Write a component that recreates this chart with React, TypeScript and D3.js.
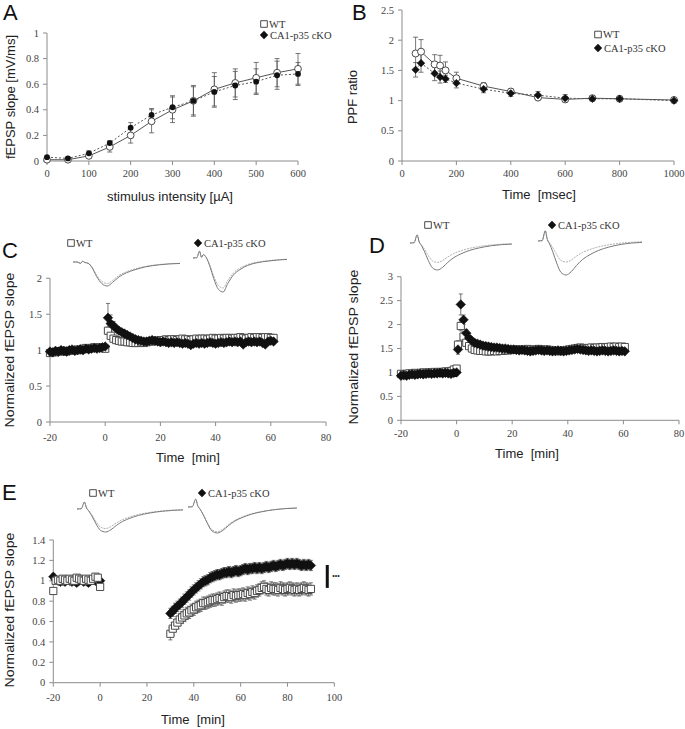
import * as d3 from "d3"

const SERIF = "'Liberation Serif','Times New Roman',serif"
const SANS = "'Liberation Sans',Arial,sans-serif"
const AXIS = "#8c8c8c"
const TICK_TXT = "#444"
const WT_STROKE = "#4a4a4a"
const KO_FILL = "#111"
const ERR = "#555"
const TRACE = "#7a7a7a"

// ---- Panel A: input/output ----
const A_X = [0, 50, 100, 150, 200, 250, 300, 350, 400, 450, 500, 550, 600]
const A_WT = [0.01, 0.01, 0.04, 0.11, 0.2, 0.31, 0.4, 0.47, 0.56, 0.61, 0.65, 0.69, 0.72]
const A_WT_ERR = [0.01, 0.01, 0.02, 0.04, 0.06, 0.09, 0.1, 0.11, 0.13, 0.11, 0.12, 0.11, 0.12]
const A_KO = [0.03, 0.02, 0.06, 0.14, 0.26, 0.36, 0.42, 0.47, 0.54, 0.59, 0.62, 0.67, 0.68]
const A_KO_ERR = [0.01, 0.01, 0.02, 0.02, 0.04, 0.05, 0.09, 0.12, 0.12, 0.11, 0.1, 0.11, 0.09]
const A_X_TICKS = [0, 100, 200, 300, 400, 500, 600]
const A_Y_TICKS = [0, 0.2, 0.4, 0.6, 0.8, 1]

// ---- Panel B: paired-pulse ----
const B_X = [50, 70, 120, 140, 160, 200, 300, 400, 500, 600, 700, 800, 1000]
const B_WT = [1.78, 1.81, 1.6, 1.58, 1.5, 1.37, 1.24, 1.15, 1.05, 1.02, 1.04, 1.03, 1.01]
const B_WT_ERR = [0.27, 0.2, 0.16, 0.17, 0.14, 0.1, 0.06, 0.05, 0.04, 0.05, 0.04, 0.04, 0.04]
const B_KO = [1.51, 1.62, 1.45, 1.39, 1.36, 1.29, 1.19, 1.12, 1.09, 1.04, 1.03, 1.03, 1.0]
const B_KO_ERR = [0.12, 0.15, 0.12, 0.1, 0.06, 0.08, 0.06, 0.05, 0.06, 0.06, 0.04, 0.03, 0.04]
const B_X_TICKS = [0, 200, 400, 600, 800, 1000]
const B_Y_TICKS = [0, 0.5, 1, 1.5, 2, 2.5]

// ---- Panel C: LTP ----
const C_BASE_T0 = -20
const C_POST_T0 = 1
const C_WT_BASE = [0.96, 0.97, 0.97, 0.98, 0.98, 0.99, 0.98, 0.99, 1.0, 1.0, 1.01, 1.0, 1.02, 1.03, 1.02, 1.03, 1.04, 1.03, 1.04, 1.03, 1.02]
const C_KO_BASE = [0.98, 0.97, 0.99, 0.98, 1.0, 0.99, 0.98, 1.0, 1.01, 0.99, 1.0, 1.01, 1.0, 1.02, 1.01, 1.02, 1.03, 1.02, 1.03, 1.04, 1.05]
const C_WT_POST = [
  1.27, 1.2, 1.16, 1.14, 1.13, 1.12, 1.12, 1.11, 1.11, 1.1,
  1.1, 1.1, 1.11, 1.1, 1.11, 1.12, 1.12, 1.13, 1.13, 1.14,
  1.14, 1.15, 1.14, 1.15, 1.15, 1.14, 1.15, 1.16, 1.15, 1.15,
  1.14, 1.15, 1.16, 1.15, 1.16, 1.16, 1.15, 1.16, 1.17, 1.16,
  1.16, 1.17, 1.16, 1.17, 1.17, 1.16, 1.17, 1.17, 1.18, 1.17,
  1.16, 1.17, 1.18, 1.17, 1.18, 1.18, 1.17, 1.18, 1.18, 1.17,
  1.17,
]
const C_KO_POST = [
  1.45, 1.37, 1.34, 1.3, 1.27, 1.25, 1.23, 1.21, 1.19, 1.17,
  1.15, 1.14, 1.13, 1.12, 1.12, 1.13, 1.14, 1.13, 1.12, 1.11,
  1.12, 1.11, 1.1, 1.11, 1.1, 1.11, 1.1, 1.09, 1.1, 1.09,
  1.07, 1.09, 1.1, 1.09, 1.1, 1.09, 1.1, 1.11, 1.1, 1.09,
  1.1, 1.11, 1.1, 1.11, 1.12, 1.11, 1.12, 1.11, 1.12, 1.08,
  1.11, 1.12, 1.11, 1.12, 1.11, 1.12, 1.1, 1.08, 1.12, 1.13,
  1.12,
]
const C_WT_ERR_HEAD = [0.05, 0.05]
const C_KO_ERR_HEAD = [0.2, 0.12, 0.06]
const C_ERR = 0.035
const C_X_TICKS = [-20, 0, 20, 40, 60, 80]
const C_Y_TICKS = [0, 0.5, 1, 1.5, 2]

// ---- Panel D: LTP (strong) ----
const D_BASE_T0 = -20
const D_POST_T0 = 0.5
const D_WT_BASE = [0.97, 0.96, 0.97, 0.98, 0.98, 0.99, 0.98, 0.99, 1.0, 0.99, 1.0, 1.0, 1.01, 1.0, 1.01, 1.01, 1.02, 1.02, 1.03, 1.06, 1.08]
const D_KO_BASE = [0.93, 0.94, 0.93, 0.95, 0.96, 0.95, 0.96, 0.97, 0.96, 0.97, 0.98, 0.97, 0.98, 0.98, 0.99, 0.98, 0.99, 0.98, 0.97, 0.99, 1.0]
const D_WT_POST = [
  1.58, 1.97, 1.75, 1.62, 1.55, 1.5, 1.47, 1.46, 1.45, 1.45, 1.44,
  1.44, 1.44, 1.45, 1.44, 1.45, 1.45, 1.46, 1.46, 1.47, 1.47,
  1.48, 1.48, 1.47, 1.48, 1.49, 1.48, 1.47, 1.48, 1.49, 1.48,
  1.47, 1.48, 1.47, 1.46, 1.45, 1.44, 1.45, 1.46, 1.47, 1.48,
  1.49, 1.5, 1.51, 1.52, 1.51, 1.5, 1.51, 1.52, 1.51, 1.52,
  1.52, 1.53, 1.52, 1.53, 1.54, 1.53, 1.54, 1.53, 1.54, 1.53,
]
const D_KO_POST = [
  1.48, 2.42, 2.1, 1.82, 1.72, 1.66, 1.62, 1.6, 1.58, 1.56, 1.55,
  1.54, 1.53, 1.52, 1.52, 1.51, 1.5, 1.5, 1.49, 1.48, 1.48,
  1.47, 1.46, 1.47, 1.46, 1.45, 1.44, 1.45, 1.46, 1.47, 1.46,
  1.45, 1.46, 1.45, 1.44, 1.45, 1.46, 1.45, 1.44, 1.45, 1.46,
  1.47, 1.48, 1.49, 1.48, 1.47, 1.46, 1.45, 1.46, 1.45, 1.44,
  1.45, 1.46, 1.45, 1.44, 1.45, 1.46, 1.45, 1.44, 1.45, 1.44,
]
const D_WT_ERR_HEAD = [0.08, 0.1, 0.1, 0.06]
const D_KO_ERR_HEAD = [0.1, 0.22, 0.1, 0.08]
const D_ERR = 0.05
const D_X_TICKS = [-20, 0, 20, 40, 60, 80]
const D_Y_TICKS = [0, 0.5, 1, 1.5, 2, 2.5, 3]

// ---- Panel E: recovery ----
const E_BASE_T0 = -20
const E_POST_T0 = 30
const E_WT_BASE = [0.9, 1.0, 1.01, 1.0, 1.02, 1.01, 1.0, 1.02, 1.01, 1.0, 1.03, 1.02, 1.01, 1.0, 1.02, 1.01, 1.0, 1.02, 1.04, 1.03, 0.94]
const E_KO_BASE = [1.04, 1.01, 1.0, 0.99, 1.0, 0.99, 1.01, 1.0, 0.99, 1.0, 0.98, 1.0, 1.01, 0.99, 1.0, 0.98, 1.0, 1.01, 1.0, 0.99, 1.0]
const E_WT_POST = [
  0.48, 0.53, 0.56, 0.59, 0.62, 0.64, 0.66, 0.68, 0.69, 0.71,
  0.72, 0.74, 0.75, 0.76, 0.78, 0.78, 0.79, 0.8, 0.81, 0.81,
  0.82, 0.83, 0.82, 0.84, 0.85, 0.85, 0.84, 0.86, 0.85, 0.86,
  0.86, 0.87, 0.86, 0.88, 0.87, 0.89, 0.88, 0.9, 0.91, 0.93,
  0.94, 0.92, 0.91, 0.93, 0.92, 0.92, 0.91, 0.93, 0.92, 0.91,
  0.92, 0.93, 0.92, 0.91, 0.92, 0.91, 0.92, 0.93, 0.92, 0.91,
  0.92,
]
const E_KO_POST = [
  0.68, 0.7, 0.73, 0.75, 0.77, 0.79, 0.82, 0.84, 0.86, 0.89,
  0.91, 0.93, 0.95, 0.97, 0.99, 1.0, 1.01, 1.03, 1.04, 1.05,
  1.06, 1.06, 1.07, 1.08, 1.08, 1.09, 1.08, 1.09, 1.1, 1.09,
  1.1, 1.11, 1.12, 1.11, 1.12, 1.12, 1.13, 1.12, 1.13, 1.12,
  1.13, 1.14, 1.13, 1.14, 1.15, 1.14, 1.15, 1.16, 1.15, 1.16,
  1.17, 1.16, 1.17, 1.16, 1.17, 1.16, 1.15, 1.16, 1.15, 1.16,
  1.15,
]
const E_WT_ERR = 0.06
const E_KO_ERR = 0.05
const E_X_TICKS = [-20, 0, 20, 40, 60, 80, 100]
const E_Y_TICKS = [0, 0.2, 0.4, 0.6, 0.8, 1, 1.2, 1.4]
const E_SIG = { t: 97, lo: 0.93, hi: 1.155 }

// ---- sample fEPSP traces (0 = baseline, -1 = trough) ----
const TRACE_T = [0, 0.04, 0.07, 0.09, 0.11, 0.14, 0.18, 0.22, 0.27, 0.32, 0.37, 0.43, 0.5, 0.58, 0.68, 0.8, 0.9, 1]
const SHAPE_SMOOTH = [0, 0, -0.06, 0.03, -0.02, -0.05, -0.25, -0.6, -0.9, -1.0, -0.85, -0.62, -0.45, -0.32, -0.2, -0.12, -0.08, -0.06]
const SHAPE_BUMPY = [0, 0.01, 0.2, 0.02, 0.1, 0.02, -0.25, -0.6, -0.92, -1.0, -0.75, -0.5, -0.34, -0.22, -0.14, -0.09, -0.06, -0.04]
const SHAPE_SPIKE = [0, 0.01, 0.3, 0.04, -0.08, -0.3, -0.65, -0.92, -1.0, -0.9, -0.72, -0.54, -0.4, -0.28, -0.18, -0.1, -0.06, -0.04]

type Lin = d3.ScaleLinear<number, number>
type Pt = { t: number; v: number; e: number }

const fmt = (v: number) => String(+v.toFixed(1))

function Axes({ x, y, xTicks, yTicks, labelGap = 16 }: { x: Lin; y: Lin; xTicks: number[]; yTicks: number[]; labelGap?: number }) {
  const [x0, x1] = x.range()
  const [yb, yt] = y.range()
  return (
    <g>
      <line x1={x0} x2={x0} y1={yb} y2={yt} stroke={AXIS} />
      <line x1={x0} x2={x1} y1={yb} y2={yb} stroke={AXIS} />
      {yTicks.map((t) => (
        <g key={"y" + t}>
          <line x1={x0 - 4} x2={x0} y1={y(t)} y2={y(t)} stroke={AXIS} />
          <text x={x0 - 8} y={y(t)} dy="0.35em" textAnchor="end" fontFamily={SERIF} fontSize={10.5} fill={TICK_TXT}>
            {fmt(t)}
          </text>
        </g>
      ))}
      {xTicks.map((t) => (
        <g key={"x" + t}>
          <line x1={x(t)} x2={x(t)} y1={yb} y2={yb + 4} stroke={AXIS} />
          <text x={x(t)} y={yb + labelGap} textAnchor="middle" fontFamily={SERIF} fontSize={10.5} fill={TICK_TXT}>
            {fmt(t)}
          </text>
        </g>
      ))}
    </g>
  )
}

function ErrBars({ pts, x, y, cap = 2.5 }: { pts: Pt[]; x: Lin; y: Lin; cap?: number }) {
  return (
    <g stroke={ERR} strokeWidth={0.8}>
      {pts.map((p, i) => {
        const cx = x(p.t)
        const a = y(p.v - p.e)
        const b = y(p.v + p.e)
        return (
          <g key={i}>
            <line x1={cx} x2={cx} y1={a} y2={b} />
            <line x1={cx - cap} x2={cx + cap} y1={a} y2={a} />
            <line x1={cx - cap} x2={cx + cap} y1={b} y2={b} />
          </g>
        )
      })}
    </g>
  )
}

const square = (cx: number, cy: number, s: number) => `M${cx - s},${cy - s}h${2 * s}v${2 * s}h${-2 * s}Z`
const diamond = (cx: number, cy: number, s: number) => `M${cx},${cy - s}L${cx + s},${cy}L${cx},${cy + s}L${cx - s},${cy}Z`

function Squares({ pts, x, y, s = 3.6 }: { pts: Pt[]; x: Lin; y: Lin; s?: number }) {
  return (
    <g fill="#fff" stroke={WT_STROKE} strokeWidth={1}>
      {pts.map((p, i) => (
        <path key={i} d={square(x(p.t), y(p.v), s)} />
      ))}
    </g>
  )
}

function Diamonds({ pts, x, y, s = 4.8 }: { pts: Pt[]; x: Lin; y: Lin; s?: number }) {
  return <path d={pts.map((p) => diamond(x(p.t), y(p.v), s)).join("")} fill={KO_FILL} stroke={KO_FILL} strokeWidth={0.5} />
}

function series(vals: number[], t0: number, err: number, head: number[] = []): Pt[] {
  return vals.map((v, i) => ({ t: t0 + i, v, e: head[i] ?? err }))
}

function pairs(xs: number[], vals: number[], errs: number[]): Pt[] {
  return xs.map((t, i) => ({ t, v: vals[i], e: errs[i] }))
}

function Trace({ shape, x0, w, y0, depth, k, color, dash }: { shape: number[]; x0: number; w: number; y0: number; depth: number; k: number; color: string; dash?: string }) {
  const sx = d3.scaleLinear().domain([0, 1]).range([x0, x0 + w])
  const sy = d3.scaleLinear().domain([-1, 0]).range([y0 + depth, y0])
  const line = d3
    .line<number>()
    .x((_, i) => sx(TRACE_T[i]))
    .y((v) => sy(v < 0 ? v * k : v))
    .curve(d3.curveMonotoneX)
  return <path d={line(shape) ?? ""} fill="none" stroke={color} strokeWidth={1} strokeDasharray={dash} />
}

function TracePair({ shape, x0, w, y0, depth, k }: { shape: number[]; x0: number; w: number; y0: number; depth: number; k: number }) {
  return (
    <g>
      <Trace shape={shape} x0={x0} w={w} y0={y0} depth={depth} k={k} color="#b0b0b0" dash="2,1" />
      <Trace shape={shape} x0={x0} w={w} y0={y0} depth={depth} k={1} color={TRACE} />
    </g>
  )
}

function Legend({ x, y, dx, dy, horizontal }: { x: number; y: number; dx: number; dy: number; horizontal?: boolean }) {
  const kx = horizontal ? x + dx : x
  const ky = horizontal ? y : y + dy
  return (
    <g fontFamily={SERIF} fontSize={10.5} fill="#333">
      <path d={square(x + 3, y, 3.3)} fill="#fff" stroke={WT_STROKE} />
      <text x={x + 8} y={y + 3.8}>WT</text>
      <path d={diamond(kx + 3, ky, 4.2)} fill={KO_FILL} />
      <text x={kx + 9} y={ky + 3.8}>CA1-p35 cKO</text>
    </g>
  )
}

function YTitle({ x, y, text, len }: { x: number; y: number; text: string; len?: number }) {
  return (
    <text transform={`translate(${x},${y}) rotate(-90)`} textAnchor="middle" fontFamily={SANS} fontSize={13} fill="#222" textLength={len} lengthAdjust={len ? "spacingAndGlyphs" : undefined}>
      {text}
    </text>
  )
}

function XTitle({ x, y, text }: { x: number; y: number; text: string }) {
  return (
    <text x={x} y={y} textAnchor="middle" fontFamily={SANS} fontSize={13} fill="#222">
      {text}
    </text>
  )
}

function Letter({ x, y, c }: { x: number; y: number; c: string }) {
  return (
    <text x={x} y={y} fontFamily={SANS} fontSize={22} fill="#111">
      {c}
    </text>
  )
}

function PanelA() {
  const x = d3.scaleLinear().domain([0, 600]).range([47, 298])
  const y = d3.scaleLinear().domain([0, 1]).range([161, 33])
  const wt = pairs(A_X, A_WT, A_WT_ERR)
  const ko = pairs(A_X, A_KO, A_KO_ERR)
  const line = d3.line<Pt>().x((p) => x(p.t)).y((p) => y(p.v))
  return (
    <g>
      <Axes x={x} y={y} xTicks={A_X_TICKS} yTicks={A_Y_TICKS} />
      <path d={line(wt) ?? ""} fill="none" stroke="#555" />
      <path d={line(ko) ?? ""} fill="none" stroke="#555" strokeDasharray="2,2" />
      <ErrBars pts={wt} x={x} y={y} />
      <ErrBars pts={ko} x={x} y={y} />
      {wt.map((p, i) => (
        <circle key={i} cx={x(p.t)} cy={y(p.v)} r={3.4} fill="#fff" stroke={WT_STROKE} />
      ))}
      {ko.map((p, i) => (
        <circle key={i} cx={x(p.t)} cy={y(p.v)} r={2.9} fill={KO_FILL} />
      ))}
      <Legend x={261} y={24} dx={0} dy={11} />
      <YTitle x={15} y={97} text="fEPSP slope [mV/ms]" />
      <XTitle x={170} y={201} text="stimulus intensity [µA]" />
      <Letter x={3} y={20} c="A" />
    </g>
  )
}

function PanelB() {
  const x = d3.scaleLinear().domain([0, 1000]).range([402, 674])
  const y = d3.scaleLinear().domain([0, 2.5]).range([161, 10])
  const wt = pairs(B_X, B_WT, B_WT_ERR)
  const ko = pairs(B_X, B_KO, B_KO_ERR)
  const line = d3.line<Pt>().x((p) => x(p.t)).y((p) => y(p.v))
  return (
    <g>
      <Axes x={x} y={y} xTicks={B_X_TICKS} yTicks={B_Y_TICKS} />
      <path d={line(wt) ?? ""} fill="none" stroke="#555" />
      <path d={line(ko) ?? ""} fill="none" stroke="#555" strokeDasharray="2,2" />
      <ErrBars pts={wt} x={x} y={y} />
      <ErrBars pts={ko} x={x} y={y} />
      {wt.map((p, i) => (
        <circle key={i} cx={x(p.t)} cy={y(p.v)} r={3.5} fill="#fff" stroke={WT_STROKE} />
      ))}
      <Diamonds pts={ko} x={x} y={y} s={3.8} />
      <Legend x={595} y={34.5} dx={0} dy={13.5} />
      <YTitle x={357} y={97} text="PPF ratio" />
      <XTitle x={539} y={199} text={"Time\u00a0 [msec]"} />
      <Letter x={352} y={20} c="B" />
    </g>
  )
}

function TimePanel({ x, y, wtBase, koBase, wtPost, koPost, wtOnTop }: { x: Lin; y: Lin; wtBase: Pt[]; koBase: Pt[]; wtPost: Pt[]; koPost: Pt[]; wtOnTop?: boolean }) {
  const wt = [...wtBase, ...wtPost]
  const ko = [...koBase, ...koPost]
  return (
    <g>
      <ErrBars pts={wt} x={x} y={y} cap={2} />
      <ErrBars pts={ko} x={x} y={y} cap={2} />
      {wtOnTop ? (
        <>
          <Diamonds pts={ko} x={x} y={y} />
          <Squares pts={wt} x={x} y={y} />
        </>
      ) : (
        <>
          <Squares pts={wt} x={x} y={y} />
          <Diamonds pts={ko} x={x} y={y} />
        </>
      )}
    </g>
  )
}

function PanelC() {
  const x = d3.scaleLinear().domain([-20, 80]).range([50, 326])
  const y = d3.scaleLinear().domain([0, 2]).range([422, 278.3])
  return (
    <g>
      <Axes x={x} y={y} xTicks={C_X_TICKS} yTicks={C_Y_TICKS} labelGap={19} />
      <TimePanel
        x={x}
        y={y}
        wtBase={series(C_WT_BASE, C_BASE_T0, C_ERR)}
        koBase={series(C_KO_BASE, C_BASE_T0, C_ERR)}
        wtPost={series(C_WT_POST, C_POST_T0, C_ERR, C_WT_ERR_HEAD)}
        koPost={series(C_KO_POST, C_POST_T0, C_ERR, C_KO_ERR_HEAD)}
      />
      <TracePair shape={SHAPE_SMOOTH} x0={73} w={107} y0={262} depth={24} k={0.9} />
      <TracePair shape={SHAPE_BUMPY} x0={193} w={94} y0={258} depth={34} k={0.88} />
      <Legend x={68} y={243} dx={127} dy={0} horizontal />
      <YTitle x={14} y={350} text="Normalized fEPSP slope" len={155} />
      <XTitle x={188} y={462} text={"Time\u00a0 [min]"} />
      <Letter x={2} y={258} c="C" />
    </g>
  )
}

function PanelD() {
  const x = d3.scaleLinear().domain([-20, 80]).range([401, 679])
  const y = d3.scaleLinear().domain([0, 3]).range([420.3, 276.7])
  return (
    <g>
      <Axes x={x} y={y} xTicks={D_X_TICKS} yTicks={D_Y_TICKS} labelGap={17} />
      <TimePanel
        x={x}
        y={y}
        wtBase={series(D_WT_BASE, D_BASE_T0, D_ERR)}
        koBase={series(D_KO_BASE, D_BASE_T0, D_ERR)}
        wtPost={series(D_WT_POST, D_POST_T0, D_ERR, D_WT_ERR_HEAD)}
        koPost={series(D_KO_POST, D_POST_T0, D_ERR, D_KO_ERR_HEAD)}
      />
      <TracePair shape={SHAPE_SPIKE} x0={410} w={102} y0={243} depth={27} k={0.72} />
      <TracePair shape={SHAPE_SPIKE} x0={538} w={104} y0={241} depth={34} k={0.62} />
      <Legend x={425} y={225} dx={124} dy={0} horizontal />
      <YTitle x={358} y={347} text="Normalized fEPSP slope" len={155} />
      <XTitle x={527} y={458} text={"Time\u00a0 [min]"} />
      <Letter x={369} y={253} c="D" />
    </g>
  )
}

function PanelE() {
  const x = d3.scaleLinear().domain([-20, 100]).range([53.3, 334.3])
  const y = d3.scaleLinear().domain([0, 1.4]).range([682.7, 540])
  return (
    <g>
      <Axes x={x} y={y} xTicks={E_X_TICKS} yTicks={E_Y_TICKS} labelGap={18} />
      <TimePanel
        x={x}
        y={y}
        wtBase={series(E_WT_BASE, E_BASE_T0, 0.03)}
        koBase={series(E_KO_BASE, E_BASE_T0, 0.03)}
        wtPost={series(E_WT_POST, E_POST_T0, E_WT_ERR)}
        koPost={series(E_KO_POST, E_POST_T0, E_KO_ERR)}
        wtOnTop
      />
      <line x1={x(E_SIG.t)} x2={x(E_SIG.t)} y1={y(E_SIG.lo)} y2={y(E_SIG.hi)} stroke="#111" strokeWidth={3} />
      <text x={x(E_SIG.t) + 5} y={y((E_SIG.lo + E_SIG.hi) / 2) + 2} fontFamily={SANS} fontSize={7} fill="#222">
        •••
      </text>
      <TracePair shape={SHAPE_SPIKE} x0={77} w={106} y0={509} depth={23} k={0.85} />
      <TracePair shape={SHAPE_SPIKE} x0={188} w={109} y0={507} depth={26} k={0.95} />
      <Legend x={90} y={493} dx={109} dy={0} horizontal />
      <YTitle x={14} y={610} text="Normalized fEPSP slope" len={155} />
      <XTitle x={193} y={724} text={"Time\u00a0 [min]"} />
      <Letter x={2} y={500} c="E" />
    </g>
  )
}

export default function App() {
  return (
    <svg width={685} height={729} style={{ position: "absolute", left: 0, top: 0, background: "#fff" }}>
      <PanelA />
      <PanelB />
      <PanelC />
      <PanelD />
      <PanelE />
    </svg>
  )
}
